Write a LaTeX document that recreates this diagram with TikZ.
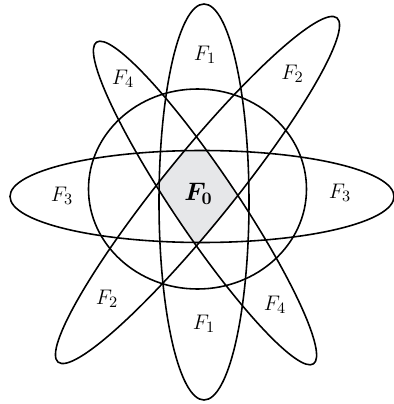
\documentclass[tikz,border=0pt]{standalone}
\usepackage{amsmath,amssymb}
\usepackage{tikz}
\definecolor{corefill}{RGB}{230,231,233}

\begin{document}
\begin{tikzpicture}[
  ring/.style={line width=0.9pt},
  lbl/.style={font=\fontsize{13}{15}\selectfont, inner sep=1pt},
  core/.style={font=\Large, inner sep=1pt},
]
\useasboundingbox (-4,-4.08) rectangle (3.88,4);

% ---- shaded core: inside all four petals -----------------------------------
\begin{scope}
  \clip (0.08,-0.04) ellipse [x radius=0.9, y radius=3.96];
  \clip (0.04,0.07) ellipse [x radius=3.84, y radius=0.92];
  \clip[shift={(-0.05,0.2)}, rotate=51] (0,0) ellipse [x radius=4.43, y radius=0.7];
  \clip[shift={(0.1,-0.06)}, rotate=-56] (0,0) ellipse [x radius=3.88, y radius=0.63];
  \fill[corefill] (-4,-4.08) rectangle (3.88,4);
\end{scope}

% ---- outlines ----------------------------------------------------------------
\draw[ring] (-0.05,0.22) ellipse [x radius=2.18, y radius=2.0];
\draw[ring] (0.08,-0.04) ellipse [x radius=0.9, y radius=3.96];
\draw[ring] (0.04,0.07) ellipse [x radius=3.84, y radius=0.92];
\draw[ring, shift={(-0.05,0.2)}, rotate=51] (0,0) ellipse [x radius=4.43, y radius=0.7];
\draw[ring, shift={(0.1,-0.06)}, rotate=-56] (0,0) ellipse [x radius=3.88, y radius=0.63];

% ---- labels --------------------------------------------------------------------
\node[lbl] (f1top) at (0.1,2.9)    {$F_1$};
\node[lbl] (f1bot) at (0.08,-2.47) {$F_1$};
\node[lbl] (f2top) at (1.85,2.52)  {$F_2$};
\node[lbl] (f2bot) at (-1.86,-1.97){$F_2$};
\node[lbl] (f3lft) at (-2.76,0.08) {$F_3$};
\node[lbl] (f3rgt) at (2.8,0.14)   {$F_3$};
\node[lbl] (f4top) at (-1.54,2.42) {$F_4$};
\node[lbl] (f4bot) at (1.5,-2.1)   {$F_4$};
\node[core] (f0) at (-0.03,0.13)   {$\boldsymbol{F_0}$};
\end{tikzpicture}
\end{document}
